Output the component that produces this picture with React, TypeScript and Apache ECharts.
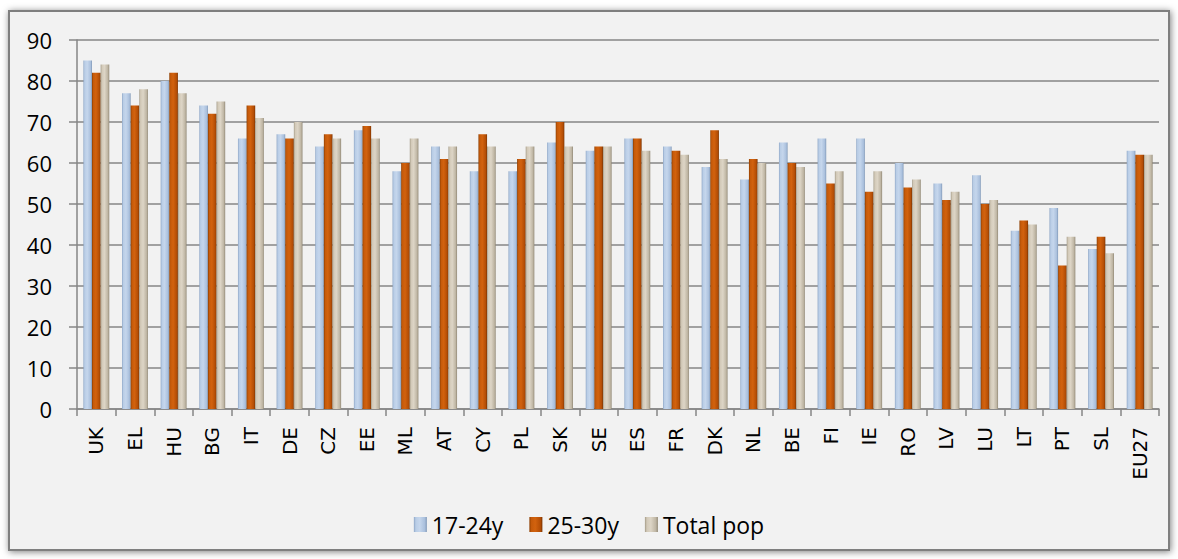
import React, { useEffect, useRef } from "react";
import * as echarts from "echarts";

const categories = ["UK","EL","HU","BG","IT","DE","CZ","EE","ML","AT","CY","PL","SK","SE","ES","FR","DK","NL","BE","FI","IE","RO","LV","LU","LT","PT","SL","EU27"];
const young = [85,77,80,74,66,67,64,68,58,64,58,58,65,63,66,64,59,56,65,66,66,60,55,57,43.5,49,39,63];
const adult = [82,74,82,72,74,66,67,69,60,61,67,61,70,64,66,63,68,61,60,55,53,54,51,50,46,35,42,62];
const total = [84,78,77,75,71,70,66,66,66,64,64,64,64,64,63,62,61,60,59,58,58,56,53,51,45,42,38,62];
const seriesNames = ["17-24y", "25-30y", "Total pop"];
const yTicks = { min: 0, max: 90, interval: 10 };

function grad(stops: string[]) {
  return new echarts.graphic.LinearGradient(1, 0, 0, 0, [
    { offset: 0, color: stops[0] },
    { offset: 0.15, color: stops[1] },
    { offset: 0.55, color: stops[2] },
    { offset: 0.85, color: stops[3] },
    { offset: 1, color: stops[4] },
  ]);
}

export default function App() {
  const ref = useRef<HTMLDivElement>(null);
  useEffect(() => {
    if (!ref.current) return;
    const chart = echarts.init(ref.current, undefined, { renderer: "svg" });
    const colors = [
      grad(["#7e96b5", "#a9bfdc", "#c5d6ec", "#b9cde6", "#8ea6c6"]),
      grad(["#7a3300", "#b34d05", "#d2620e", "#c55a0a", "#8c3d00"]),
      grad(["#8f8673", "#bdb4a2", "#ddd5c6", "#d2c9b8", "#a39a86"]),
    ];
    const data = [young, adult, total];
    chart.setOption({
      animation: false,
      backgroundColor: "#ffffff",
      graphic: [
        {
          type: "rect",
          z: -10,
          silent: true,
          shape: { x: 9, y: 11, width: 1160, height: 539 },
          style: {
            fill: "#f2f2f2",
            stroke: "#7f7f7f",
            lineWidth: 2,
            shadowBlur: 7,
            shadowColor: "rgba(0,0,0,0.5)",
            shadowOffsetX: 1,
            shadowOffsetY: 1,
          },
        },
      ],
      grid: { left: 77, right: 19, top: 40, bottom: 150 },
      legend: {
        data: seriesNames,
        bottom: 18,
        left: "center",
        icon: "rect",
        itemWidth: 13,
        itemHeight: 15,
        itemGap: 26,
        textStyle: { fontFamily: "Open Sans", fontSize: 23, color: "#000" },
      },
      xAxis: {
        type: "category",
        data: categories,
        axisLine: { lineStyle: { color: "#868686", width: 1.5 } },
        axisTick: { show: true, length: 7, lineStyle: { color: "#868686", width: 1.5 } },
        axisLabel: {
          rotate: 90,
          margin: 18,
          interval: 0,
          fontFamily: "DejaVu Sans",
          fontSize: 20,
          color: "#000",
        },
      },
      yAxis: {
        type: "value",
        min: yTicks.min,
        max: yTicks.max,
        interval: yTicks.interval,
        axisLine: { show: true, lineStyle: { color: "#868686", width: 1.5 } },
        axisTick: { show: true, length: 8, lineStyle: { color: "#868686", width: 1.5 } },
        splitLine: { lineStyle: { color: "#868686", width: 1.5 } },
        axisLabel: { margin: 25, fontFamily: "Open Sans", fontSize: 22, color: "#000" },
      },
      series: seriesNames.map((name, i) => ({
        name,
        type: "bar",
        data: data[i],
        barGap: "0%",
        barCategoryGap: "33%",
        itemStyle: { color: colors[i] },
      })),
    });
    return () => chart.dispose();
  }, []);
  return (
    <div
      ref={ref}
      style={{ position: "absolute", left: 0, top: 0, width: 1178, height: 559 }}
    />
  );
}
